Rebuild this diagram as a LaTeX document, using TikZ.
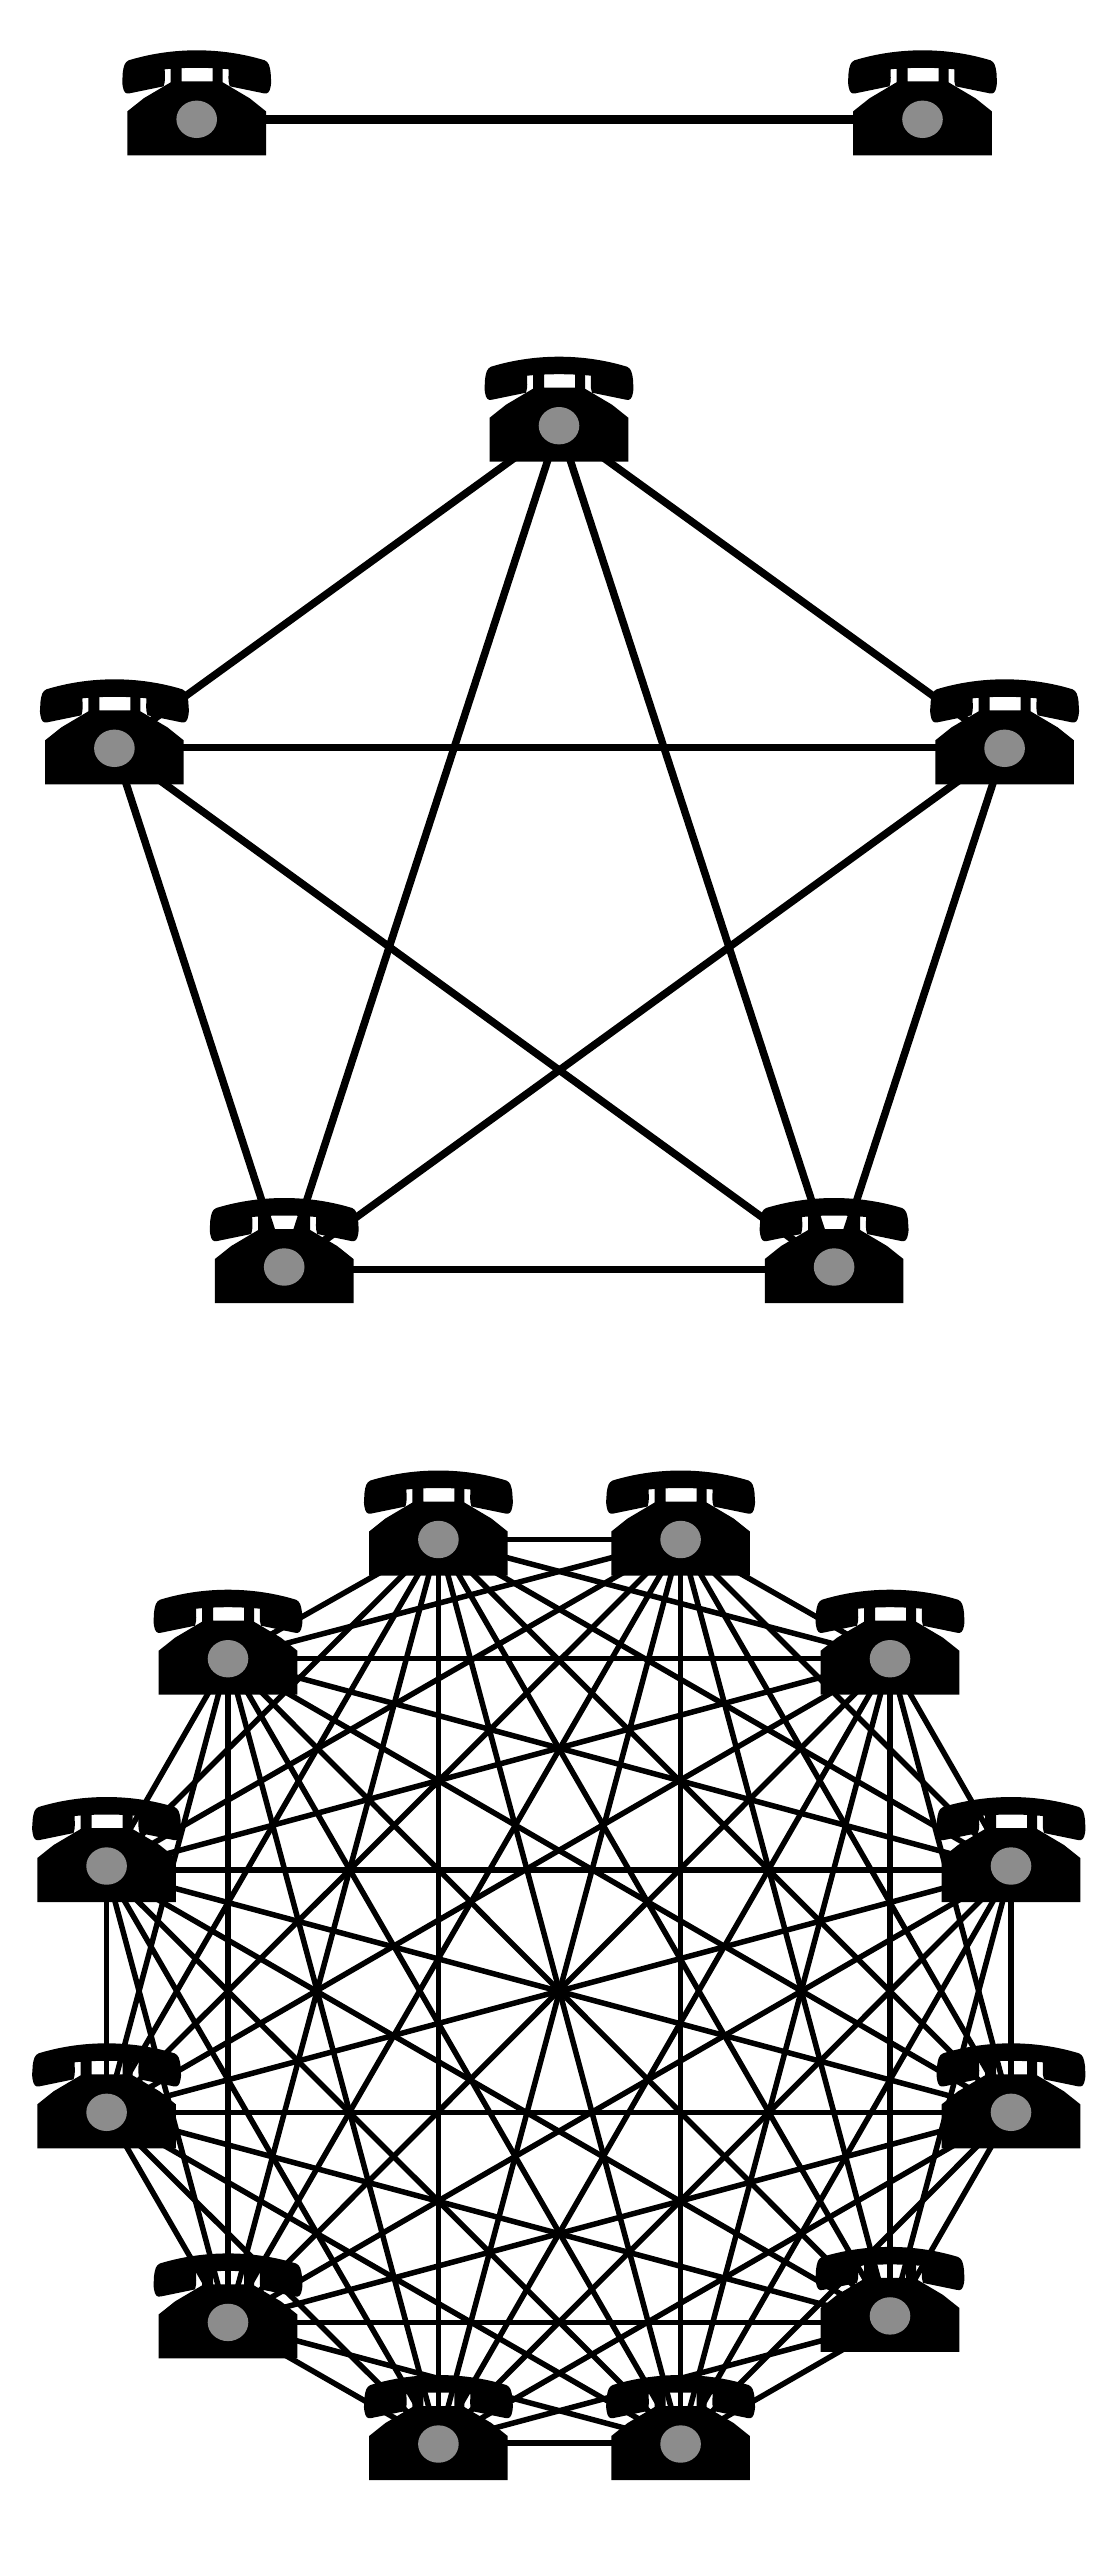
\documentclass[tikz,border=0pt]{standalone}
\usetikzlibrary{calc}
\definecolor{tel-dial}{HTML}{8C8C8C}
\tikzset{
    wire/.style={draw=black, line width=#1},
    phone/.pic={
        % handset
        \fill[black] (-68,-59) .. controls (-45,-66) and (-22,-69) .. (0,-69)
            .. controls (22,-69) and (45,-66) .. (68,-59)
            .. controls (72,-57) and (73,-54) .. (74,-46)
            .. controls (74,-41) and (75,-38) .. (74,-33)
            .. controls (73,-27) and (71,-25) .. (67,-26)
            -- (33,-33) .. controls (31,-39) and (32,-44) .. (32,-50)
            .. controls (12,-52) and (-12,-52) .. (-32,-50)
            .. controls (-32,-44) and (-31,-39) .. (-33,-33)
            -- (-67,-26) .. controls (-71,-25) and (-73,-27) .. (-74,-33)
            .. controls (-75,-38) and (-74,-41) .. (-74,-46)
            .. controls (-73,-54) and (-72,-57) .. (-68,-59) -- cycle;
        % body with the cradle on top
        \fill[black] (-69.3,36) -- (-69.3,-8) -- (-53,-21) -- (-26,-37) -- (-26,-52)
            -- (-15,-52) -- (-15,-38) -- (16,-38) -- (16,-52) -- (26,-52) -- (26,-37)
            -- (53,-21) -- (69.3,-8) -- (69.3,36) -- cycle;
        \fill[tel-dial] (0,0) ellipse [x radius=20.3, y radius=18.7];
    }
}
\begin{document}
\begin{tikzpicture}[x=1pt, y=-1pt]
    \useasboundingbox (0,0) rectangle (1114,2560);
    % two phones
    \coordinate (a1) at (196.7,119.3);
    \coordinate (a2) at (922.5,119.3);
    \draw[wire=9.5pt] (a1) -- (a2);
    \foreach \i in {1,2} {
        \pic at (a\i) {phone};
    }
    % five phones
    \coordinate (c1) at (559,425.7);
    \coordinate (c2) at (114.4,747.5);
    \coordinate (c3) at (1004.6,747.5);
    \coordinate (c4) at (284.2,1269.5);
    \coordinate (c5) at (834.1,1269.5);
    \foreach \i in {1,...,4} {
        \pgfmathtruncatemacro{\k}{\i+1}
        \foreach \j in {\k,...,5} {
            \draw[wire=7.5pt] (c\i) -- (c\j);
        }
    }
    \foreach \i/\dy in {1/0,2/-0.8,3/-0.8,4/2.5,5/2.5} {
        \pic at ([yshift=\dy pt]c\i) {phone};
    }
    % twelve phones
    \coordinate (b1) at (438.4,1539.5);
    \coordinate (b2) at (680.6,1539.5);
    \coordinate (b3) at (890,1658.7);
    \coordinate (b4) at (1011,1870);
    \coordinate (b5) at (1011,2112.3);
    \coordinate (b6) at (890,2322.4);
    \coordinate (b7) at (680.6,2443);
    \coordinate (b8) at (438.4,2443);
    \coordinate (b9) at (228,2322.4);
    \coordinate (b10) at (106.6,2112.3);
    \coordinate (b11) at (106.6,1870);
    \coordinate (b12) at (228,1658.7);
    \foreach \i in {1,...,11} {
        \pgfmathtruncatemacro{\k}{\i+1}
        \foreach \j in {\k,...,12} {
            \draw[wire=5.5pt] (b\i) -- (b\j);
        }
    }
    \foreach \i/\dy in {1/0,2/0,3/0,4/4,5/0,6/6.5,7/-1,8/-1,9/0,10/0,11/4,12/0} {
        \pic at ([yshift=\dy pt]b\i) {phone};
    }
\end{tikzpicture}
\end{document}
